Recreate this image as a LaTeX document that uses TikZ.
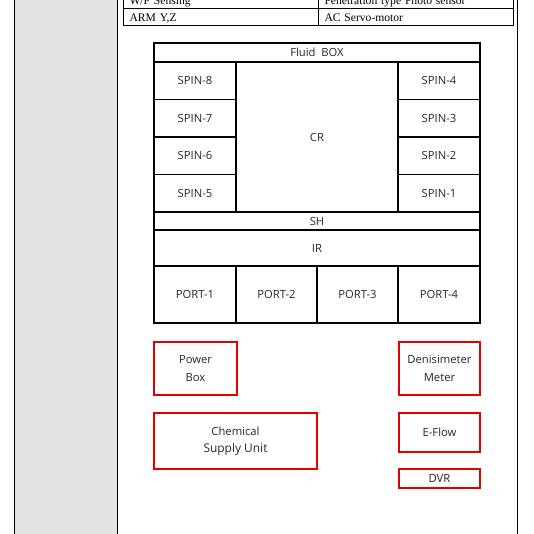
\documentclass[tikz,border=0pt]{standalone}
\usepackage{fontspec}
\setmainfont{Liberation Serif}
\newfontfamily\boxfont{Open Sans}
\usetikzlibrary{positioning}

\begin{document}
\begin{tikzpicture}[x=0.5mm,y=-0.5mm]
\tikzset{
    cell/.style 2 args={rectangle, draw=black, line width=2.2pt, minimum width=#1mm, minimum height=#2mm, inner sep=0pt, outer sep=0pt, font=\boxfont\fontsize{16}{25}\selectfont, text=black!85, align=center},
    unit/.style 2 args={cell={#1}{#2}, draw=red!90!black},
    tcell/.style={rectangle, draw=black, line width=1.2pt, minimum height=8.5mm, text width=91mm, text height=15.6pt, text depth=0pt, inner xsep=3.25mm, inner ysep=0pt, align=left, font=\fontsize{16.5}{18}\selectfont}
}
\useasboundingbox (0,0) rectangle (534,534);
\clip (0,0) rectangle (534,534);

% page frame
\fill[black!11] (14,0) rectangle (117,534);
\draw[line width=1.4pt] (14,0) -- (14,534) (117,0) -- (117,534) (517,0) -- (517,534);

% spec table
\node[tcell] (sense) at (220.5,-0.5) {W/F Sensing};
\node[tcell] (sensor) at (415.5,-0.5) {Penetration type Photo sensor};
\node[tcell] (arm) at (220.5,16.5) {ARM Y,Z};
\node[tcell] (motor) at (415.5,16.5) {AC Servo-motor};

% fluid box
\node[cell={163}{9.5}] (fluid) at (317,52.5) {Fluid\ \ BOX};
\foreach \n/\y in {8/80.75,7/118.25,6/155.75,5/193.25}
    \node[cell={41}{18.75}] (spin\n) at (195,\y) {SPIN-\n};
\foreach \n/\y in {4/80.75,3/118.25,2/155.75,1/193.25}
    \node[cell={41}{18.75}] (spin\n) at (439,\y) {SPIN-\n};
\node[cell={81}{75}] (cr) at (317,137) {CR};
\node[cell={163}{9}] (sh) at (317,221) {SH};
\node[cell={163}{18}] (ir) at (317,248) {IR};
\foreach \n/\x/\w in {1/195/41,2/276.5/40.5,3/357.5/40.5,4/439/41}
    \node[cell={\w}{28.5}] (port\n) at (\x,294.5) {PORT-\n};

% units
\node[unit={41.5}{26.5}] (power) at (195.5,368.5) {Power\\Box};
\node[unit={40.5}{26.5}] (densi) at (439.5,368.5) {Denisimeter\\Meter};
\node[unit={81.5}{28}] (chem) at (235.5,441) {Chemical\\{\fontsize{17}{25}\selectfont Supply Unit}};
\node[unit={40.5}{19.5}] (eflow) at (439.5,432.5) {E-Flow};
\node[unit={40.5}{9.5}] (dvr) at (439.5,478.5) {DVR};
\end{tikzpicture}
\end{document}
